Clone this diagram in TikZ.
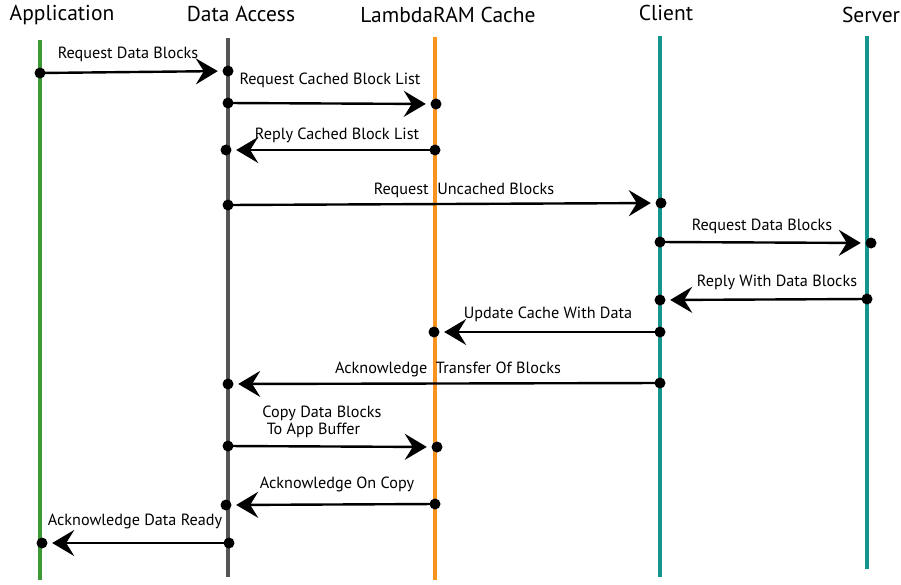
\documentclass[tikz,border=0pt]{standalone}
\usepackage{fontspec}
\setmainfont{PT Sans}
\usetikzlibrary{arrows.meta}
\definecolor{appgreen}{HTML}{3A9A35}
\definecolor{dagray}{HTML}{555555}
\definecolor{cacheorange}{HTML}{F7931E}
\definecolor{tealline}{HTML}{14968F}
\begin{document}
\begin{tikzpicture}[x=1pt,y=-1pt,
  life/.style={line width=3.2pt},
  msg/.style={line width=2.4pt,-{Stealth[length=22pt,width=26pt,inset=8pt]},shorten >=4.5pt},
  dot/.style={circle,fill=black,inner sep=0pt,minimum size=11pt},
  lbl/.style={font=\fontsize{16.2}{18}\selectfont,inner sep=0pt},
  ttl/.style={font=\fontsize{21.5}{24}\selectfont,inner sep=0pt}]
\useasboundingbox (0,0) rectangle (901,584);
% titles
\node[ttl] (tApp) at (62,15) {Application};
\node[ttl] (tDA) at (241,14) {Data Access};
\node[ttl] (tCache) at (448,15) {LambdaRAM Cache};
\node[ttl] (tClient) at (666,13) {Client};
\node[ttl] (tServer) at (871,15) {Server};
% lifelines
\coordinate (appT) at (40,40); \coordinate (appB) at (40,580);
\coordinate (daT) at (228,38); \coordinate (daB) at (228,577);
\coordinate (caT) at (435,37); \coordinate (caB) at (435,580);
\coordinate (clT) at (660,36); \coordinate (clB) at (660,577);
\coordinate (svT) at (867,36); \coordinate (svB) at (867,569);
\draw[life,appgreen] (appT) -- (appB);
\draw[life,dagray] (daT) -- (daB);
\draw[life,cacheorange] (caT) -- (caB);
\draw[life,tealline] (clT) -- (clB);
\draw[life,tealline] (svT) -- (svB);
% message end points
\node[dot] (m1s) at (40,73) {};   \node[dot] (m1e) at (228,71) {};
\node[dot] (m2s) at (228,103) {}; \node[dot] (m2e) at (436,104) {};
\node[dot] (m3s) at (435,150) {}; \node[dot] (m3e) at (226,150) {};
\node[dot] (m4s) at (228,205) {}; \node[dot] (m4e) at (661,203) {};
\node[dot] (m5s) at (660,242) {}; \node[dot] (m5e) at (871,243) {};
\node[dot] (m6s) at (867,299) {}; \node[dot] (m6e) at (660,300) {};
\node[dot] (m7s) at (660,332) {}; \node[dot] (m7e) at (434,332) {};
\node[dot] (m8s) at (660,383) {}; \node[dot] (m8e) at (228,384) {};
\node[dot] (m9s) at (228,446) {}; \node[dot] (m9e) at (437,447) {};
\node[dot] (m10s) at (435,504) {}; \node[dot] (m10e) at (226,505) {};
\node[dot] (m11s) at (229,543) {}; \node[dot] (m11e) at (42,543) {};
% messages
\foreach \i in {1,...,11} {
  \draw[msg] (m\i s.center) -- (m\i e);
}
% labels
\node[lbl] (l1) at (128,54) {Request Data Blocks};
\node[lbl] (l2) at (330,80) {Request Cached Block List};
\node[lbl] (l3) at (337,135) {Reply Cached Block List};
\node[lbl] (l4) at (464,190) {Request\ \ Uncached Blocks};
\node[lbl] (l5) at (762,226) {Request Data Blocks};
\node[lbl] (l6) at (777,282) {Reply With Data Blocks};
\node[lbl] (l7) at (548,314) {Update Cache With Data};
\node[lbl] (l8) at (448,369) {Acknowledge\ \ Transfer Of Blocks};
\node[lbl,align=left] (l9) at (322,422) {Copy Data Blocks\\[-1pt]\ To App Buffer};
\node[lbl] (l10) at (337,484) {Acknowledge On Copy};
\node[lbl] (l11) at (135,521) {Acknowledge Data Ready};
\end{tikzpicture}
\end{document}
